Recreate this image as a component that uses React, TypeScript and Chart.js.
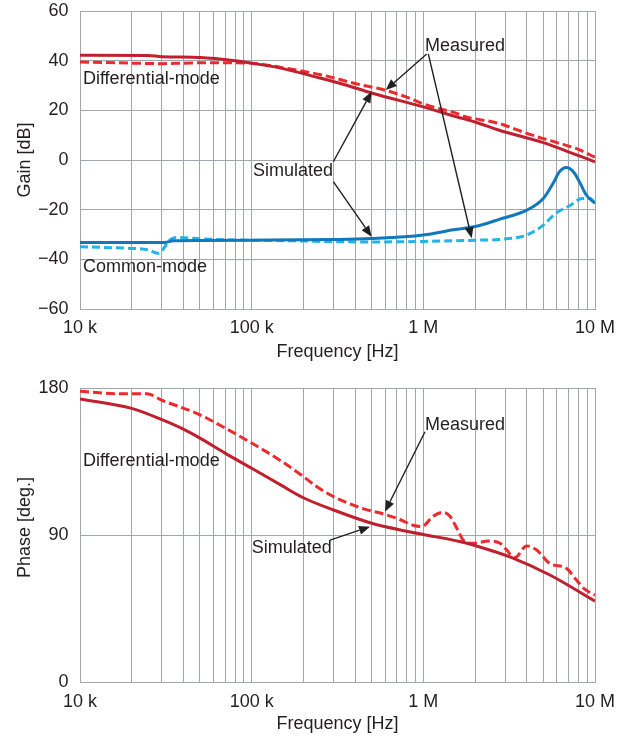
import React, { useEffect, useRef } from 'react';
import { Chart, registerables } from 'chart.js';

Chart.register(...registerables);

const FONT_FAMILY = "'Liberation Sans', Arial, Helvetica, sans-serif";
const TEXT = '#231f20';
const GRID = '#a2a6ab';
const RED_SIM = '#c0202e';
const RED_MEAS = '#ec2a2d';
const BLUE_SIM = '#1078bd';
const BLUE_MEAS = '#22b3e8';

// ---- axis ticks ----
const X_MAJOR = [1e4, 1e5, 1e6, 1e7];
const X_TICK_LABELS = ['10 k', '100 k', '1 M', '10 M'];
const GAIN_TICKS = [-60, -40, -20, 0, 20, 40, 60];
const PHASE_TICKS = [0, 90, 180];

// ---- gain, differential-mode ----
const DM_GAIN_SIM_F = [1e4, 2.5e4, 3e4, 5e4, 8e4, 1e5, 1.5e5, 2.5e5, 3.3e5, 5.1e5, 1e6, 1.56e6, 2e6, 2.77e6, 5e6, 7e6, 1e7];
const DM_GAIN_SIM = [42.2, 42.1, 41.6, 41.3, 40.0, 39.0, 36.9, 33.0, 30.8, 26.8, 21.4, 17.4, 15.3, 12.0, 7.0, 3.3, -0.7];
const DM_GAIN_MEAS_F = [1e4, 2e4, 3e4, 4e4, 6e4, 1e5, 1.5e5, 2.62e5, 4e5, 6e5, 8e5, 1e6, 1.25e6, 1.5e6, 1.8e6, 2e6, 2.77e6, 3.5e6, 4.4e6, 5e6, 6e6, 8e6, 1e7];
const DM_GAIN_MEAS = [39.5, 39.0, 38.8, 39.0, 39.2, 39.0, 37.2, 34.1, 30.8, 28.1, 25.3, 22.6, 20.6, 19.2, 17.2, 16.6, 14.7, 12.2, 9.8, 8.6, 7.0, 4.3, 1.1];

// ---- gain, common-mode ----
const CM_GAIN_SIM_F = [1e4, 3.1e4, 3.5e4, 5e4, 1e5, 3e5, 5e5, 1e6, 1.5e6, 2e6, 2.77e6, 4e6, 5e6, 5.7e6, 6.2e6, 6.8e6, 7.5e6, 8.2e6, 8.9e6, 1e7];
const CM_GAIN_SIM = [-33.2, -33.2, -32.5, -32.4, -32.3, -32.0, -31.6, -30.2, -28.1, -26.8, -23.9, -20.2, -15.5, -9.4, -4.8, -3.0, -4.8, -9.4, -14.1, -17.5];
const CM_GAIN_MEAS_F = [1e4, 1.5e4, 2e4, 2.5e4, 2.86e4, 3.35e4, 3.66e4, 4.8e4, 6.2e4, 1e5, 2e5, 3e5, 5e5, 1e6, 2e6, 2.77e6, 4e6, 5e6, 5.9e6, 7.2e6, 8.4e6, 9.4e6, 1e7];
const CM_GAIN_MEAS = [-34.9, -35.3, -35.6, -36.2, -37.6, -32.1, -31.2, -31.6, -32.0, -32.3, -32.6, -32.9, -33.0, -32.8, -32.3, -32.0, -30.2, -26.2, -21.5, -18.2, -15.5, -15.5, -17.5];

// ---- phase, differential-mode ----
const DM_PHASE_SIM_F = [1e4, 2e4, 3e4, 4e4, 5e4, 7e4, 1e5, 1.5e5, 2e5, 3e5, 5e5, 8e5, 1e6, 1.63e6, 2e6, 3.3e6, 5.46e6, 1e7];
const DM_PHASE_SIM = [173.3, 167.5, 160.6, 154.8, 149.3, 140.1, 130.9, 120.2, 112.8, 105.3, 97.2, 92.3, 90.3, 86.0, 83.5, 76.0, 65.5, 49.5];
const DM_PHASE_MEAS_F = [1e4, 1.7e4, 2.45e4, 3e4, 5e4, 7e4, 1e5, 1.5e5, 2e5, 2.4e5, 3e5, 4.5e5, 5.8e5, 7.3e5, 8.7e5, 9.8e5, 1.14e6, 1.3e6, 1.43e6, 1.57e6, 1.72e6, 1.95e6, 2.4e6, 2.8e6, 3.05e6, 3.4e6, 4e6, 4.57e6, 5.46e6, 6.8e6, 7.8e6, 8.6e6, 1e7];
const DM_PHASE_MEAS = [178, 176.5, 176.5, 172.5, 163.6, 155.5, 146.3, 135, 125.8, 119.5, 113.5, 106, 103, 99.5, 96, 95.2, 101.5, 103.9, 101.5, 94, 86.5, 84.9, 86.3, 84.9, 81, 76, 83.3, 80.8, 72.6, 69.6, 62.4, 57.3, 53.2];

// ---- annotations (data coordinates: frequency, value) ----
type Txt = { text: string; f: number; v: number };
type Arr = { f1: number; v1: number; f2: number; v2: number };
const TOP_TEXTS: Txt[] = [
  { text: 'Differential-mode', f: 1.04e4, v: 32.6 },
  { text: 'Common-mode', f: 1.04e4, v: -43.3 },
  { text: 'Measured', f: 1.023e6, v: 45.9 },
  { text: 'Simulated', f: 1.018e5, v: -4.6 },
];
const TOP_ARROWS: Arr[] = [
  { f1: 1.046e6, v1: 42.7, f2: 6.04e5, v2: 28.2 },
  { f1: 1.069e6, v1: 42.7, f2: 1.912e6, v2: -31.5 },
  { f1: 2.99e5, v1: -0.7, f2: 5.0e5, v2: 27.5 },
  { f1: 2.99e5, v1: -8.7, f2: 5.0e5, v2: -30.9 },
];
const BOTTOM_TEXTS: Txt[] = [
  { text: 'Differential-mode', f: 1.04e4, v: 135 },
  { text: 'Measured', f: 1.023e6, v: 157.6 },
  { text: 'Simulated', f: 1.0e5, v: 82 },
];
const BOTTOM_ARROWS: Arr[] = [
  { f1: 1.023e6, v1: 153.2, f2: 5.98e5, v2: 104.3 },
  { f1: 2.86e5, v1: 86.9, f2: 4.89e5, v2: 95.1 },
];

const X_GRID: number[] = [];
for (let d = 0; d < X_MAJOR.length - 1; d++) {
  for (let m = 1; m <= 9; m++) X_GRID.push(m * X_MAJOR[d]);
}
X_GRID.push(X_MAJOR[X_MAJOR.length - 1]);

const font = { family: FONT_FAMILY, size: 18 };

function series(f: number[], v: number[], color: string, dash: number[]) {
  return {
    data: f.map((x, i) => ({ x, y: v[i] })),
    borderColor: color,
    backgroundColor: color,
    borderWidth: 3,
    borderDash: dash,
    pointRadius: 0,
    tension: 0.4,
    cubicInterpolationMode: 'monotone' as const,
    fill: false,
  };
}

function drawArrow(ctx: CanvasRenderingContext2D, x1: number, y1: number, x2: number, y2: number) {
  const ang = Math.atan2(y2 - y1, x2 - x1);
  const L = 11;
  const W = 4.5;
  const bx = x2 - L * Math.cos(ang);
  const by = y2 - L * Math.sin(ang);
  ctx.beginPath();
  ctx.moveTo(x1, y1);
  ctx.lineTo(bx, by);
  ctx.stroke();
  ctx.beginPath();
  ctx.moveTo(x2, y2);
  ctx.lineTo(bx + W * Math.sin(ang), by - W * Math.cos(ang));
  ctx.lineTo(bx - W * Math.sin(ang), by + W * Math.cos(ang));
  ctx.closePath();
  ctx.fill();
}

function annotPlugin(texts: Txt[], arrows: Arr[]) {
  return {
    id: 'annot',
    afterDatasetsDraw(chart: any) {
      const { ctx } = chart;
      const xs = chart.scales.x;
      const ys = chart.scales.y;
      ctx.save();
      ctx.font = `18px ${FONT_FAMILY}`;
      ctx.fillStyle = TEXT;
      ctx.strokeStyle = TEXT;
      ctx.lineWidth = 1.4;
      ctx.textAlign = 'left';
      ctx.textBaseline = 'middle';
      texts.forEach((t) => ctx.fillText(t.text, xs.getPixelForValue(t.f), ys.getPixelForValue(t.v)));
      arrows.forEach((a) =>
        drawArrow(ctx, xs.getPixelForValue(a.f1), ys.getPixelForValue(a.v1), xs.getPixelForValue(a.f2), ys.getPixelForValue(a.v2))
      );
      ctx.restore();
    },
  };
}

const fmtY = (v: number) => (v < 0 ? '\u2212' + Math.abs(v) : String(v));

function buildConfig(p: {
  datasets: any[];
  yMin: number;
  yMax: number;
  yTicks: number[];
  yTitle: string;
  padTop: number;
  xAxisHeight: number;
  xTickPad: number;
  xTitlePad: number;
  texts: Txt[];
  arrows: Arr[];
}): any {
  return {
    type: 'line',
    data: { datasets: p.datasets },
    options: {
      animation: false,
      responsive: false,
      maintainAspectRatio: false,
      events: [],
      layout: { padding: { left: 0, right: 37, top: p.padTop, bottom: 0 } },
      plugins: { legend: { display: false }, tooltip: { enabled: false } },
      scales: {
        x: {
          type: 'logarithmic',
          min: X_MAJOR[0],
          max: X_MAJOR[X_MAJOR.length - 1],
          afterBuildTicks: (s: any) => {
            s.ticks = X_GRID.map((v) => ({ value: v }));
          },
          afterFit: (s: any) => {
            s.height = p.xAxisHeight;
          },
          grid: { color: GRID, lineWidth: 1, drawTicks: false },
          border: { color: GRID, width: 1 },
          ticks: {
            autoSkip: false,
            maxRotation: 0,
            minRotation: 0,
            padding: p.xTickPad,
            color: TEXT,
            font,
            callback: (v: number) => {
              const i = X_MAJOR.indexOf(v);
              return i >= 0 ? X_TICK_LABELS[i] : '';
            },
          },
          title: { display: true, text: 'Frequency [Hz]', color: TEXT, font, padding: { top: 0, bottom: p.xTitlePad } },
        },
        y: {
          type: 'linear',
          min: p.yMin,
          max: p.yMax,
          afterBuildTicks: (s: any) => {
            s.ticks = p.yTicks.map((v) => ({ value: v }));
          },
          afterFit: (s: any) => {
            s.width = 80;
          },
          grid: { color: GRID, lineWidth: 1, drawTicks: true, tickLength: 11.5, tickColor: 'rgba(0,0,0,0)' },
          border: { color: GRID, width: 1 },
          ticks: { padding: 0, color: TEXT, font, callback: (v: number) => fmtY(v) },
          title: { display: true, text: p.yTitle, color: TEXT, font, padding: { top: 14, bottom: 0 } },
        },
      },
    },
    plugins: [annotPlugin(p.texts, p.arrows)],
  };
}

export default function App() {
  const topRef = useRef<HTMLCanvasElement>(null);
  const botRef = useRef<HTMLCanvasElement>(null);

  useEffect(() => {
    document.body.style.margin = '0';
    const top = new Chart(
      topRef.current as HTMLCanvasElement,
      buildConfig({
        datasets: [
          series(DM_GAIN_SIM_F, DM_GAIN_SIM, RED_SIM, []),
          series(CM_GAIN_SIM_F, CM_GAIN_SIM, BLUE_SIM, []),
          series(DM_GAIN_MEAS_F, DM_GAIN_MEAS, RED_MEAS, [9, 4]),
          series(CM_GAIN_MEAS_F, CM_GAIN_MEAS, BLUE_MEAS, [8, 4]),
        ],
        yMin: GAIN_TICKS[0],
        yMax: GAIN_TICKS[GAIN_TICKS.length - 1],
        yTicks: GAIN_TICKS,
        yTitle: 'Gain [dB]',
        padTop: 11,
        xAxisHeight: 61,
        xTickPad: 8,
        xTitlePad: 6.7,
        texts: TOP_TEXTS,
        arrows: TOP_ARROWS,
      })
    );
    const bottom = new Chart(
      botRef.current as HTMLCanvasElement,
      buildConfig({
        datasets: [
          series(DM_PHASE_SIM_F, DM_PHASE_SIM, RED_SIM, []),
          series(DM_PHASE_MEAS_F, DM_PHASE_MEAS, RED_MEAS, [9, 4]),
        ],
        yMin: PHASE_TICKS[0],
        yMax: PHASE_TICKS[PHASE_TICKS.length - 1],
        yTicks: PHASE_TICKS,
        yTitle: '\u00a0\u00a0\u00a0Phase [deg.]',
        padTop: 18,
        xAxisHeight: 58,
        xTickPad: 9.5,
        xTitlePad: 5.2,
        texts: BOTTOM_TEXTS,
        arrows: BOTTOM_ARROWS,
      })
    );
    return () => {
      top.destroy();
      bottom.destroy();
    };
  }, []);

  return (
    <div style={{ position: 'relative', width: 632, height: 740, background: '#fff' }}>
      <canvas ref={topRef} width={632} height={370} style={{ position: 'absolute', left: 0, top: 0, width: 632, height: 370 }} />
      <canvas ref={botRef} width={632} height={370} style={{ position: 'absolute', left: 0, top: 370, width: 632, height: 370 }} />
    </div>
  );
}
